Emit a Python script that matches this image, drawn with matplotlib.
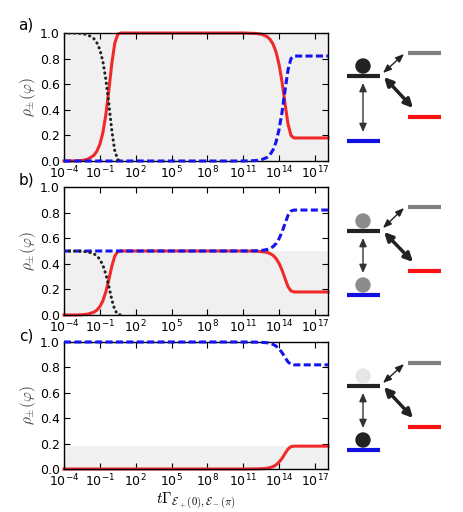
import numpy as np
import matplotlib
matplotlib.use("Agg")
import matplotlib.pyplot as plt
from matplotlib.patches import Circle

plt.rcParams["mathtext.fontset"] = "cm"

# ---------------- data (exponents of t) ----------------
early_exp = [-4, -3, -2.5, -2, -1.5, -1.25, -1, -0.75, -0.5, -0.25, 0, 0.25, 0.5, 0.75, 1.0]
late_exp = [11, 12, 12.5, 13, 13.25, 13.5, 13.75, 14, 14.25, 14.5, 14.75, 15, 15.25, 15.5, 18.1]

# panel a
a_red_early = [0, 0.001, 0.004, 0.014, 0.044, 0.076, 0.13, 0.22, 0.36, 0.55, 0.76, 0.92, 0.99, 1.0, 1.0]
a_black_early = [1.0, 0.999, 0.996, 0.986, 0.956, 0.924, 0.87, 0.78, 0.64, 0.45, 0.24, 0.08, 0.01, 0.0, 0.0]
a_blue_late = [0, 0.003, 0.009, 0.028, 0.05, 0.087, 0.148, 0.245, 0.38, 0.55, 0.71, 0.80, 0.82, 0.82, 0.82]
a_red_late = [1.0, 0.997, 0.991, 0.972, 0.95, 0.913, 0.852, 0.755, 0.62, 0.45, 0.29, 0.20, 0.18, 0.18, 0.18]
a_blue_early = [0.0] * 15
a_shade = 1.0

# panel b
b_red_early = [0, 0.0005, 0.002, 0.007, 0.022, 0.038, 0.065, 0.11, 0.18, 0.275, 0.38, 0.46, 0.495, 0.5, 0.5]
b_black_early = [0.5, 0.4995, 0.498, 0.493, 0.478, 0.462, 0.435, 0.39, 0.32, 0.225, 0.12, 0.04, 0.005, 0.0, 0.0]
b_blue_early = [0.5] * 15
b_blue_late = [0.5, 0.501, 0.504, 0.511, 0.52, 0.534, 0.558, 0.596, 0.648, 0.714, 0.778, 0.812, 0.82, 0.82, 0.82]
b_red_late = [0.5, 0.499, 0.496, 0.489, 0.48, 0.466, 0.442, 0.404, 0.352, 0.286, 0.222, 0.188, 0.18, 0.18, 0.18]
b_shade = 0.5

# panel c
c_red_early = [0.0] * 15
c_blue_early = [1.0] * 15
c_blue_late = [1.0, 0.999, 0.998, 0.994, 0.989, 0.981, 0.968, 0.946, 0.917, 0.879, 0.843, 0.824, 0.82, 0.82, 0.82]
c_red_late = [0.0, 0.001, 0.002, 0.006, 0.011, 0.019, 0.032, 0.054, 0.083, 0.121, 0.157, 0.176, 0.18, 0.18, 0.18]
c_shade = 0.18

panel_labels = ["a)", "b)", "c)"]
ytick_vals = [0.0, 0.2, 0.4, 0.6, 0.8, 1.0]
xtick_exps = [-4, -1, 2, 5, 8, 11, 14, 17]

# ---------------- styling ----------------
RED = "#f02a2a"
BLUE = "#1414ee"
GRAY_FILL = "#f0f0f0"

W, H = 463, 512
fig = plt.figure(figsize=(W / 100, H / 100), dpi=100)

ax_left = 64 / W
ax_w = (328 - 64) / W
panel_px = [(33, 161), (187, 315), (342, 469)]

panels = [
    dict(red=(a_red_early, a_red_late), blue=(a_blue_early, a_blue_late), black=a_black_early, shade=a_shade),
    dict(red=(b_red_early, b_red_late), blue=(b_blue_early, b_blue_late), black=b_black_early, shade=b_shade),
    dict(red=(c_red_early, c_red_late), blue=(c_blue_early, c_blue_late), black=None, shade=c_shade),
]

t_early = 10.0 ** np.array(early_exp)
t_late = 10.0 ** np.array(late_exp)
t_full = np.concatenate([t_early, t_late])
xmin, xmax = 10.0 ** -4, 10.0 ** 18.1

axes = []
for i, (p, (top, bot)) in enumerate(zip(panels, panel_px)):
    ax = fig.add_axes([ax_left, 1 - bot / H, ax_w, (bot - top) / H])
    axes.append(ax)
    ax.set_xscale("log")
    ax.set_xlim(xmin, xmax)
    ax.set_ylim(0, 1.0)
    ax.axhspan(0, p["shade"], color=GRAY_FILL, zorder=0, lw=0)
    # blue dashed
    ax.plot(t_full, p["blue"][0] + p["blue"][1], color=BLUE, lw=2.2,
            linestyle=(0, (2.3, 1.1)), zorder=3, clip_on=False)
    # red solid
    ax.plot(t_full, p["red"][0] + p["red"][1], color=RED, lw=2.2, zorder=2, clip_on=False)
    if p["black"] is not None:
        ax.plot(t_early[:14], p["black"][:14], color="#222222", lw=2.2,
                linestyle=(0, (0.1, 1.6)), dash_capstyle="round", zorder=4)
    ax.set_xticks([10.0 ** e for e in xtick_exps])
    ax.set_xticklabels([r"$\mathdefault{10^{%d}}$" % e for e in xtick_exps])
    ax.xaxis.set_minor_locator(matplotlib.ticker.NullLocator())
    ax.set_yticks(ytick_vals)
    ax.set_yticklabels(["%.1f" % v for v in ytick_vals])
    ax.tick_params(direction="in", top=True, right=True, labelsize=9, length=4, pad=3)
    ax.set_ylabel(r"$\rho_{\pm}(\varphi)$", fontsize=11, color="#444444", labelpad=1)
    for s in ax.spines.values():
        s.set_linewidth(1.0)
    ax.set_facecolor("white")

axes[2].set_xlabel(r"$t\Gamma_{\mathcal{E}_+(0),\mathcal{E}_-(\pi)}$", fontsize=11, labelpad=1)

for lab, y in zip(panel_labels, [25, 180, 336]):
    fig.text(26 / W, 1 - y / H, lab, fontsize=11, ha="center", va="center")

# ---------------- level diagrams (overlay in pixel coords) ----------------
ov = fig.add_axes([0, 0, 1, 1])
ov.set_xlim(0, W)
ov.set_ylim(H, 0)
ov.axis("off")
ov.patch.set_alpha(0)

diagrams = [
    dict(levels=(76, 53, 117, 141), top_circle="#222222", bottom_circle=None),
    dict(levels=(231, 207, 271, 295), top_circle="#8c8c8c", bottom_circle="#8c8c8c"),
    dict(levels=(386, 363, 427, 450), top_circle="#e6e6e6", bottom_circle="#222222"),
]
lvl_lw = 3.0
for d in diagrams:
    by, gy, ry, bly = d["levels"]
    ov.plot([347, 380], [by, by], color="#222222", lw=lvl_lw, solid_capstyle="butt")
    ov.plot([408, 441], [gy, gy], color="#808080", lw=lvl_lw, solid_capstyle="butt")
    ov.plot([408, 441], [ry, ry], color="#ff1010", lw=lvl_lw, solid_capstyle="butt")
    ov.plot([347, 380], [bly, bly], color="#1010e0", lw=lvl_lw, solid_capstyle="butt")
    ov.add_patch(Circle((363, by - 10), 7, color=d["top_circle"], zorder=5))
    if d["bottom_circle"] is not None:
        ov.add_patch(Circle((363, bly - 10), 7, color=d["bottom_circle"], zorder=5))
    # vertical double arrow
    v_top = by + 7
    v_bot = (bly - 9) if d["bottom_circle"] is None else (bly - 22)
    ov.annotate("", xy=(363, v_bot), xytext=(363, v_top),
                arrowprops=dict(arrowstyle="<|-|>,head_length=0.5,head_width=0.22",
                                color="#333333", lw=1.0, shrinkA=0, shrinkB=0))
    # thin arrow to gray level
    ov.annotate("", xy=(404, gy + 1), xytext=(383, by - 3),
                arrowprops=dict(arrowstyle="<|-|>,head_length=0.5,head_width=0.2",
                                color="#222222", lw=1.0, shrinkA=0, shrinkB=0))
    # thick arrow to red level
    ov.annotate("", xy=(413, ry - 9), xytext=(384, by + 1),
                arrowprops=dict(arrowstyle="<|-|>,head_length=0.5,head_width=0.25",
                                color="#222222", lw=2.5, shrinkA=0, shrinkB=0))

fig.savefig("out.png", dpi=100)
